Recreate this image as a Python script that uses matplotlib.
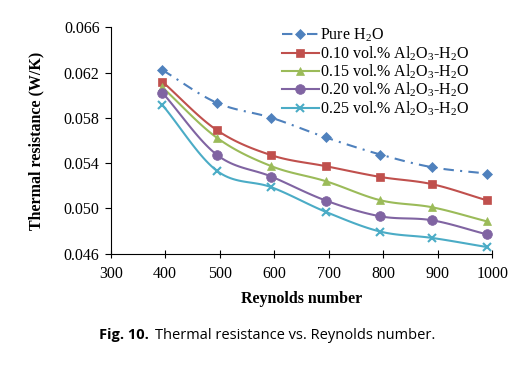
import numpy as np
import matplotlib
matplotlib.use("Agg")
import matplotlib.pyplot as plt
from matplotlib.lines import Line2D

plt.rcParams['font.family'] = ['Liberation Serif', 'DejaVu Serif']
plt.rcParams['mathtext.fontset'] = 'custom'
plt.rcParams['mathtext.rm'] = 'Liberation Serif'
plt.rcParams['mathtext.it'] = 'Liberation Serif:italic'
plt.rcParams['mathtext.bf'] = 'Liberation Serif:bold'

# ---- data ----
reynolds = [395, 495, 595, 695, 795, 890, 990]
pure_h2o = [0.06222, 0.05933, 0.05801, 0.05627, 0.05476, 0.05364, 0.05308]
al_010 = [0.06119, 0.05691, 0.05470, 0.05373, 0.05278, 0.05214, 0.05072]
al_015 = [0.06069, 0.05624, 0.05373, 0.05240, 0.05072, 0.05010, 0.04886]
al_020 = [0.06022, 0.05473, 0.05281, 0.05069, 0.04930, 0.04895, 0.04771]
al_025 = [0.05913, 0.05332, 0.05187, 0.04969, 0.04795, 0.04739, 0.04659]
labels = ['Pure H$\\mathregular{_2}$O',
          '0.10 vol.% Al$\\mathregular{_2}$O$\\mathregular{_3}$-H$\\mathregular{_2}$O',
          '0.15 vol.% Al$\\mathregular{_2}$O$\\mathregular{_3}$-H$\\mathregular{_2}$O',
          '0.20 vol.% Al$\\mathregular{_2}$O$\\mathregular{_3}$-H$\\mathregular{_2}$O',
          '0.25 vol.% Al$\\mathregular{_2}$O$\\mathregular{_3}$-H$\\mathregular{_2}$O']
yticks = [0.046, 0.050, 0.054, 0.058, 0.062, 0.066]
xticks = [300, 400, 500, 600, 700, 800, 900, 1000]

series = [pure_h2o, al_010, al_015, al_020, al_025]
colors = ['#4F81BD', '#C0504D', '#9BBB59', '#8064A2', '#4BACC6']
markers = ['D', 's', '^', 'o', 'x']
msizes = [4.8, 6.2, 6.2, 7, 6]
styles = [(0, (5, 3, 1, 3)), '-', '-', '-', '-']

XLIM = (300, 1000)
YLIM = (0.046, 0.066)


def smooth(x, y, n=20):
    """Catmull-Rom path through the data points (rendering only)."""
    x = np.asarray(x, float); y = np.asarray(y, float)
    xn = (x - XLIM[0]) / (XLIM[1] - XLIM[0])
    yn = (y - YLIM[0]) / (YLIM[1] - YLIM[0]) * 0.6
    P = np.column_stack([xn, yn])
    P = np.vstack([2 * P[0] - P[1], P, 2 * P[-1] - P[-2]])
    out = []
    for i in range(1, len(P) - 2):
        p0, p1, p2, p3 = P[i - 1], P[i], P[i + 1], P[i + 2]
        t = np.linspace(0, 1, n, endpoint=(i == len(P) - 3))[:, None]
        seg = 0.5 * ((2 * p1) + (-p0 + p2) * t + (2 * p0 - 5 * p1 + 4 * p2 - p3) * t ** 2
                     + (-p0 + 3 * p1 - 3 * p2 + p3) * t ** 3)
        out.append(seg)
    S = np.vstack(out)
    return (S[:, 0] * (XLIM[1] - XLIM[0]) + XLIM[0],
            S[:, 1] / 0.6 * (YLIM[1] - YLIM[0]) + YLIM[0])


fig = plt.figure(figsize=(5.28, 3.75), dpi=100)
ax = fig.add_axes([0.2097, 0.3235, 0.7225, 0.6035])

handles = []
for ys, c, m, ms, ls, lab in zip(series, colors, markers, msizes, styles, labels):
    sx, sy = smooth(reynolds, ys)
    ax.plot(sx, sy, color=c, lw=1.5, ls=ls, zorder=2)
    mew = 1.5 if m == 'x' else 0.5
    ax.plot(reynolds, ys, ls='none', marker=m, color=c, ms=ms, mew=mew, zorder=3)
    handles.append(Line2D([], [], color=c, lw=1.5, ls=ls, marker=m, ms=ms, mew=mew, label=lab))

ax.set_xlim(*XLIM)
ax.set_ylim(*YLIM)
ax.set_xticks(xticks)
ax.set_yticks(yticks)
ax.set_yticklabels([f'{v:.3f}' for v in yticks])
for s in ['top', 'right']:
    ax.spines[s].set_visible(False)
ax.tick_params(axis='x', direction='inout', length=6, labelsize=11.5, pad=6)
ax.tick_params(axis='y', direction='out', length=4, labelsize=11.5, pad=4)

ax.set_xlabel('Reynolds number', fontsize=11.5, fontweight='bold', labelpad=6)
ax.set_ylabel('Thermal resistance (W/K)', fontsize=11.5, fontweight='bold', labelpad=14)

ax.legend(handles=handles, loc='upper left', bbox_to_anchor=(0.424, 1.045), frameon=False,
          fontsize=11.5, handlelength=2.3, handletextpad=0.05, labelspacing=0.0, borderaxespad=0.2)

# caption: bold "Fig. 10." followed by normal text
cap_font = ['Open Sans', 'DejaVu Sans']
t1 = fig.text(0, 0.096, 'Fig. 10.', ha='left', va='baseline', fontsize=10.5,
              fontweight='bold', family=cap_font)
t2 = fig.text(0, 0.096, 'Thermal resistance vs. Reynolds number.', ha='left', va='baseline',
              fontsize=10.5, family=cap_font)
r = fig.canvas.get_renderer()
w1 = t1.get_window_extent(r).width
w2 = t2.get_window_extent(r).width
gap = 6
W = fig.bbox.width
x0 = 267 - (w1 + gap + w2) / 2
t1.set_x(x0 / W)
t2.set_x((x0 + w1 + gap) / W)

fig.savefig('out.png', dpi=100)
